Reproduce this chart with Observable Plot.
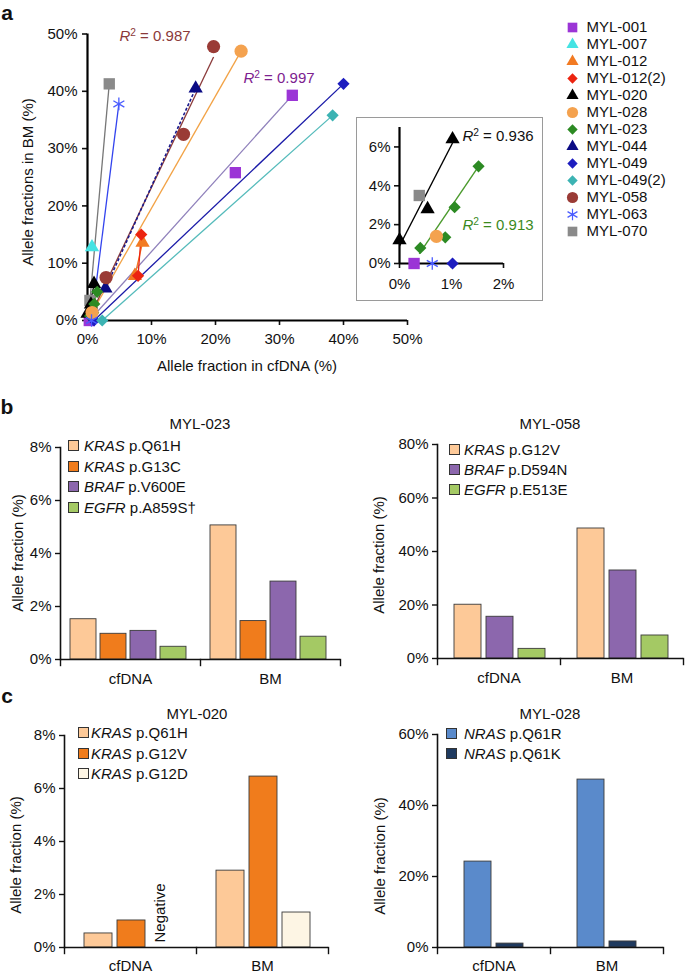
<!DOCTYPE html>
<html><head><meta charset="utf-8">
<script src="https://cdn.jsdelivr.net/npm/d3@7"></script>
<script src="https://cdn.jsdelivr.net/npm/@observablehq/plot@0.6"></script>
<style>
body{margin:0;background:#fff;font-family:"Liberation Sans",Arial,sans-serif;color:#111;}
#page{position:relative;width:685px;height:973px;overflow:hidden;background:#fff;}
.abs{position:absolute;}
.lbl{position:absolute;font-size:15px;line-height:1;white-space:nowrap;}
.letter{position:absolute;font-size:21px;font-weight:bold;line-height:1;}
.sup{font-size:0.68em;position:relative;top:-0.45em;}
</style></head><body><div id="page"></div>
<script>
// ---------- Panel a : scatter data ----------
const scatterSeries = ["MYL-001","MYL-007","MYL-012","MYL-012(2)","MYL-020","MYL-028","MYL-023","MYL-044","MYL-049","MYL-049(2)","MYL-058","MYL-063","MYL-070"];
const markerShapes  = ["square","triangle","triangle","diamond2","triangle","circle","diamond2","triangle","diamond2","diamond2","circle","asterisk","square"];
const markerColors  = ["#9b35d6","#45e3e3","#f27a22","#ec2410","#000000","#f4a24f","#2c8a23","#0b0b84","#1d1dbf","#3cb3b3","#9a3b36","#4a5cff","#8a8a8a"];
const lineColors    = ["#8f80bb","#45e3e3","#f27a22","#ec2410","#000000","#f2a245","#4a9a2c","#1a1a8c","#1a1aa8","#55bbbb","#8b3a3a","#3344ee","#777777"];

// points: series, allele fraction in cfDNA (%), allele fraction in BM (%)
const pointSeries = ["MYL-001","MYL-001","MYL-001","MYL-007","MYL-012","MYL-012","MYL-012(2)","MYL-012(2)",
  "MYL-020","MYL-020","MYL-020","MYL-028","MYL-028","MYL-023","MYL-023","MYL-023","MYL-023",
  "MYL-044","MYL-044","MYL-049","MYL-049","MYL-049(2)","MYL-049(2)","MYL-058","MYL-058","MYL-058",
  "MYL-063","MYL-063","MYL-070","MYL-070"];
const pointCfDNA = [0.28,23.1,32.0, 0.7, 7.4,8.6, 7.9,8.4, 0,0.54,1.02, 0.71,24.0, 0.40,0.88,1.06,1.52,
  2.8,16.9, 1.02,40.0, 2.3,38.3, 2.9,15.0,19.7, 0.63,4.9, 0.38,3.4];
const pointBM = [0,25.8,39.3, 12.8, 7.8,13.6, 7.8,15.0, 1.2,2.8,6.4, 1.4,47.0, 0.8,1.35,2.9,5.0,
  5.6,40.5, 0,41.3, 0,35.8, 7.5,32.5,47.8, 0,37.8, 3.5,41.3];

// fitted lines: series, start (cfDNA, BM), end (cfDNA, BM)
const fitSeries = ["MYL-001","MYL-012","MYL-012(2)","MYL-020","MYL-028","MYL-023","MYL-049","MYL-049(2)","MYL-058","MYL-063","MYL-070"];
const fitX1 = [0.3,7.4,7.9,0,0.71,0.38,1.02,2.3,0.3,0.63,0.38];
const fitY1 = [0,7.8,7.8,0.9,1.4,0.5,0,0,0.5,0,3.5];
const fitX2 = [32.0,8.6,8.4,1.02,24.0,1.52,40.0,38.3,19.7,4.9,3.4];
const fitY2 = [39.3,13.6,15.0,6.2,47.0,5.0,41.3,35.8,46.0,37.8,41.3];
const dashedSeries = ["MYL-044"];
const dashedX1 = [2.8], dashedY1 = [5.6], dashedX2 = [16.9], dashedY2 = [40.5];

const mainTicks = [0,10,20,30,40,50];
const insetYTicks = [0,2,4,6];
const insetXTicks = [0,1,2];

// ---------- Panels b, c : bar data ----------
const barSamples = ["cfDNA","BM"];
const m023Mut = ["KRAS p.Q61H","KRAS p.G13C","BRAF p.V600E","EGFR p.A859S†"];
const m023CfDNA = [1.52,0.97,1.08,0.48];
const m023BM = [5.06,1.45,2.94,0.86];
const m058Mut = ["KRAS p.G12V","BRAF p.D594N","EGFR p.E513E"];
const m058CfDNA = [20.1,15.6,3.6];
const m058BM = [48.6,32.9,8.6];
const m020Mut = ["KRAS p.Q61H","KRAS p.G12V","KRAS p.G12D"];
const m020CfDNA = [0.53,1.02,null];
const m020BM = [2.9,6.45,1.32];
const m028Mut = ["NRAS p.Q61R","NRAS p.Q61K"];
const m028CfDNA = [24.2,1.1];
const m028BM = [47.3,1.7];

// ---------- helpers ----------
const page = document.getElementById("page");
const FONT = '"Liberation Sans", Arial, sans-serif';
const baseStyle = {fontFamily: FONT, fontSize: "15px", background: "transparent", overflow: "visible", color: "#111"};
function place(node, left, top) {
  const d = document.createElement("div");
  d.className = "abs"; d.style.left = left + "px"; d.style.top = top + "px";
  node.style.display = "block";
  d.appendChild(node); page.appendChild(d); return d;
}
function textC(html, cx, cy, opts = {}) {
  const d = document.createElement("div");
  d.className = opts.cls || "lbl"; d.innerHTML = html;
  d.style.left = cx + "px"; d.style.top = cy + "px";
  d.style.transform = "translate(-50%,-50%)" + (opts.rotate ? " rotate(-90deg)" : "");
  if (opts.color) d.style.color = opts.color;
  page.appendChild(d); return d;
}
function textL(html, x, cy) {
  const d = document.createElement("div");
  d.className = "lbl"; d.innerHTML = html;
  d.style.left = x + "px"; d.style.top = cy + "px";
  d.style.transform = "translate(0,-50%)";
  page.appendChild(d); return d;
}
const colorOf = s => markerColors[scatterSeries.indexOf(s)];
const shapeOf = s => markerShapes[scatterSeries.indexOf(s)];
const lineColorOf = s => lineColors[scatterSeries.indexOf(s)];
const pts = pointSeries.map((s, i) => ({s, x: pointCfDNA[i], y: pointBM[i]}));
const fits = fitSeries.map((s, i) => ({s, x1: fitX1[i], y1: fitY1[i], x2: fitX2[i], y2: fitY2[i]}));
const dashed = dashedSeries.map((s, i) => ({s, x1: dashedX1[i], y1: dashedY1[i], x2: dashedX2[i], y2: dashedY2[i]}));
const rOf = {square: 6.4, triangle: 5.3, diamond2: 5.5, circle: 6.6, asterisk: 6};

function dotMarks(data, k = 1) {
  const shapes = ["square","triangle","diamond2","circle"];
  const marks = shapes.map(sh => Plot.dot(data.filter(d => shapeOf(d.s) === sh),
    {x: "x", y: "y", symbol: sh, r: rOf[sh] * k, fill: d => colorOf(d.s), stroke: "none"}));
  marks.push(Plot.dot(data.filter(d => shapeOf(d.s) === "asterisk"),
    {x: "x", y: "y", symbol: "asterisk", r: rOf.asterisk * k, stroke: d => colorOf(d.s), strokeWidth: 1.3, fill: "none"}));
  return marks;
}

// ---------- Panel a main scatter ----------
const mainPlot = Plot.plot({
  width: 420, height: 380,
  marginLeft: 87, marginRight: 13, marginTop: 33.5, marginBottom: 60,
  style: baseStyle,
  color: {type: "identity"},
  x: {domain: [0, 50]},
  y: {domain: [0, 50]},
  marks: [
    Plot.axisX({ticks: mainTicks, tickFormat: d => d + "%", tickSize: 5, tickPadding: 8, strokeWidth: 1.6, label: null}),
    Plot.axisY({ticks: mainTicks, tickFormat: d => d + "%", tickSize: 5, tickPadding: 5, strokeWidth: 1.6, label: null}),
    Plot.link(fits, {x1: "x1", y1: "y1", x2: "x2", y2: "y2", stroke: d => lineColorOf(d.s), strokeWidth: 1.3}),
    Plot.link(dashed, {x1: "x1", y1: "y1", x2: "x2", y2: "y2", stroke: d => lineColorOf(d.s), strokeWidth: 1.6, strokeDasharray: "3,2"}),
    Plot.ruleX([0], {strokeWidth: 2.2, stroke: "#000"}),
    Plot.ruleY([0], {strokeWidth: 2.2, stroke: "#000"}),
    ...dotMarks(pts)
  ]
});
place(mainPlot, 0, 0);

// ---------- Panel a inset ----------
const insetPts = pts.filter(d => d.x <= 2 && d.y <= 7);
const insetFits = fits.filter(d => d.s === "MYL-020" || d.s === "MYL-023");
const insetPlot = Plot.plot({
  width: 185, height: 182,
  marginLeft: 42, marginRight: 39, marginTop: 9, marginBottom: 37,
  style: baseStyle,
  color: {type: "identity"},
  x: {domain: [0, 2]},
  y: {domain: [0, 7]},
  marks: [
    Plot.axisX({ticks: insetXTicks, tickFormat: d => d + "%", tickSize: 5, tickPadding: 10, strokeWidth: 1.6, label: null}),
    Plot.axisY({ticks: insetYTicks, tickFormat: d => d + "%", tickSize: 5, tickPadding: 4, strokeWidth: 1.6, label: null}),
    Plot.link(insetFits, {x1: "x1", y1: "y1", x2: "x2", y2: "y2", stroke: d => lineColorOf(d.s), strokeWidth: 1.4}),
    Plot.ruleX([0], {strokeWidth: 2.2, stroke: "#000"}),
    Plot.ruleY([0], {strokeWidth: 2.2, stroke: "#000"}),
    ...dotMarks(insetPts)
  ]
});
const insetBox = place(insetPlot, 356, 117);
insetBox.style.border = "1px solid #9a9a9a";
insetBox.style.width = "185px"; insetBox.style.height = "182px";
insetBox.style.background = "#fff";

// ---------- Panel a legend ----------
const legendPlot = Plot.plot({
  width: 125, height: 224,
  marginLeft: 12, marginRight: 0, marginTop: 10, marginBottom: 10,
  style: baseStyle,
  color: {type: "identity"},
  y: {domain: scatterSeries, type: "point", padding: 0, axis: null},
  marks: [
    ...["square","triangle","diamond2","circle"].map(sh => Plot.dot(scatterSeries.filter(s => shapeOf(s) === sh),
      {y: d => d, frameAnchor: "left", symbol: sh, r: rOf[sh] * 0.85, fill: d => colorOf(d)})),
    Plot.dot(scatterSeries.filter(s => shapeOf(s) === "asterisk"),
      {y: d => d, frameAnchor: "left", symbol: "asterisk", r: rOf.asterisk * 0.9, stroke: d => colorOf(d), strokeWidth: 1.2, fill: "none"}),
    Plot.text(scatterSeries, {y: d => d, frameAnchor: "left", dx: 14, text: d => d, textAnchor: "start", fontSize: 15, fill: "#111"})
  ]
});
place(legendPlot, 560, 17);

// panel a text
textC("a", 7, 12, {cls: "letter"});
textC("Allele fraction in cfDNA (%)", 247, 365);
textC("Allele fractions in BM (%)", 27, 182, {rotate: true});
textC('<i>R</i><span class="sup">2</span> = 0.987', 155, 36, {color: "#8b3a3a"});
textC('<i>R</i><span class="sup">2</span> = 0.997', 279, 78, {color: "#7d2290"});
textC('<i>R</i><span class="sup">2</span> = 0.936', 498, 136, {color: "#111"});
textC('<i>R</i><span class="sup">2</span> = 0.913', 498, 225, {color: "#3b8a1e"});

// ---------- bar chart builder ----------
function barChart(cfg) {
  const data = [];
  barSamples.forEach((s, si) => cfg.mutations.forEach((m, mi) => {
    const v = cfg.values[si][mi];
    if (v != null) data.push({sample: s, mutation: m, value: v});
  }));
  const innerH = cfg.height - cfg.mT - cfg.mB;
  const marks = [
    Plot.axisY({ticks: cfg.yTicks, tickFormat: d => d + "%", tickSize: 5, tickPadding: 4, strokeWidth: 1.4, label: null}),
    Plot.axisFx({anchor: "bottom", tickSize: 0, tickPadding: cfg.fxPad, label: null}),
    Plot.barY(data, {fx: "sample", x: "mutation", y: "value",
      fill: d => cfg.colors[cfg.mutations.indexOf(d.mutation)], stroke: "#3a3a3a", strokeWidth: 0.9}),
    Plot.ruleY([0], {stroke: "#111", strokeWidth: 1.6}),
    Plot.frame({anchor: "left", facetAnchor: "left", stroke: "#111", strokeWidth: 1.6}),
    Plot.frame({anchor: "left", stroke: "#111", strokeWidth: 1.4, insetTop: innerH, insetBottom: -6}),
    Plot.frame({anchor: "right", facetAnchor: "right", stroke: "#111", strokeWidth: 1.4, insetTop: innerH, insetBottom: -6})
  ];
  if (cfg.negative) {
    marks.push(Plot.text(cfg.negative, {fx: "sample", x: "mutation", frameAnchor: "bottom", rotate: -90,
      text: () => "Negative", textAnchor: "start", dy: -5, fontSize: 15, fill: "#111"}));
  }
  return Plot.plot({
    width: cfg.width, height: cfg.height,
    marginLeft: cfg.mL, marginRight: cfg.mR, marginTop: cfg.mT, marginBottom: cfg.mB,
    style: baseStyle,
    color: {type: "identity"},
    fx: {domain: barSamples, paddingInner: 0, paddingOuter: 0},
    x: {domain: cfg.mutations, paddingInner: cfg.pi, paddingOuter: cfg.po, align: cfg.align, axis: null},
    y: {domain: cfg.yDomain},
    marks
  });
}
function barLegend(mutations, colors, swLeft, textLeft, cy0, step) {
  mutations.forEach((m, i) => {
    const cy = cy0 + i * step;
    const sw = document.createElement("div");
    sw.className = "abs"; sw.style.left = swLeft + "px"; sw.style.top = (cy - 5) + "px";
    sw.style.width = "9px"; sw.style.height = "9px"; sw.style.border = "1px solid #333"; sw.style.background = colors[i];
    page.appendChild(sw);
    const sp = m.indexOf(" ");
    textL("<i>" + m.slice(0, sp) + "</i> " + m.slice(sp + 1), textLeft, cy);
  });
}

const cOrangeLight = "#fdc998", cOrange = "#f07c1c", cPurple = "#8c67ad", cGreen = "#a4c964", cCream = "#fdf5e4", cBlue = "#5a8acb", cNavy = "#1f3a5f";

// b left: MYL-023
place(barChart({mutations: m023Mut, values: [m023CfDNA, m023BM], colors: [cOrangeLight, cOrange, cPurple, cGreen],
  yDomain: [0, 8], yTicks: [0,2,4,6,8], width: 345, height: 300, mL: 59, mR: 5, mT: 47, mB: 41,
  pi: 0.13, po: 0.38, align: 0.43, fxPad: 14}), 0, 400);
// b right: MYL-058
place(barChart({mutations: m058Mut, values: [m058CfDNA, m058BM], colors: [cOrangeLight, cPurple, cGreen],
  yDomain: [0, 80], yTicks: [0,20,40,60,80], width: 345, height: 300, mL: 97, mR: 2, mT: 44, mB: 42,
  pi: 0.15, po: 0.48, align: 0.52, fxPad: 14}), 340, 400);
// c left: MYL-020
place(barChart({mutations: m020Mut, values: [m020CfDNA, m020BM], colors: [cOrangeLight, cOrange, cCream],
  yDomain: [0, 8], yTicks: [0,2,4,6,8], width: 345, height: 283, mL: 63, mR: 17, mT: 45, mB: 26,
  pi: 0.16, po: 0.57, align: 0.51, fxPad: 13,
  negative: [{sample: "cfDNA", mutation: "KRAS p.G12D"}]}), 0, 690);
// c right: MYL-028
place(barChart({mutations: m028Mut, values: [m028CfDNA, m028BM], colors: [cBlue, cNavy],
  yDomain: [0, 60], yTicks: [0,20,40,60], width: 345, height: 283, mL: 97, mR: 22, mT: 44, mB: 26,
  pi: 0.15, po: 0.79, align: 0.5, fxPad: 13}), 340, 690);

// titles, legends, axis titles for b, c
textC("b", 7, 406, {cls: "letter"});
textC("c", 7, 695, {cls: "letter"});
textC("MYL-023", 200, 423);
textC("MYL-058", 550, 423);
textC("MYL-020", 197, 713);
textC("MYL-028", 550, 713);
textC("Allele fraction (%)", 17, 553, {rotate: true});
textC("Allele fraction (%)", 378, 555, {rotate: true});
textC("Allele fraction (%)", 15, 855, {rotate: true});
textC("Allele fraction (%)", 379, 856, {rotate: true});
barLegend(m023Mut, [cOrangeLight, cOrange, cPurple, cGreen], 68, 84, 445, 20.6);
barLegend(m058Mut, [cOrangeLight, cPurple, cGreen], 449, 464, 449, 20);
barLegend(m020Mut, [cOrangeLight, cOrange, cCream], 78, 91, 732, 20.5);
barLegend(m028Mut, [cBlue, cNavy], 446, 464, 733, 20);
</script></body></html>
